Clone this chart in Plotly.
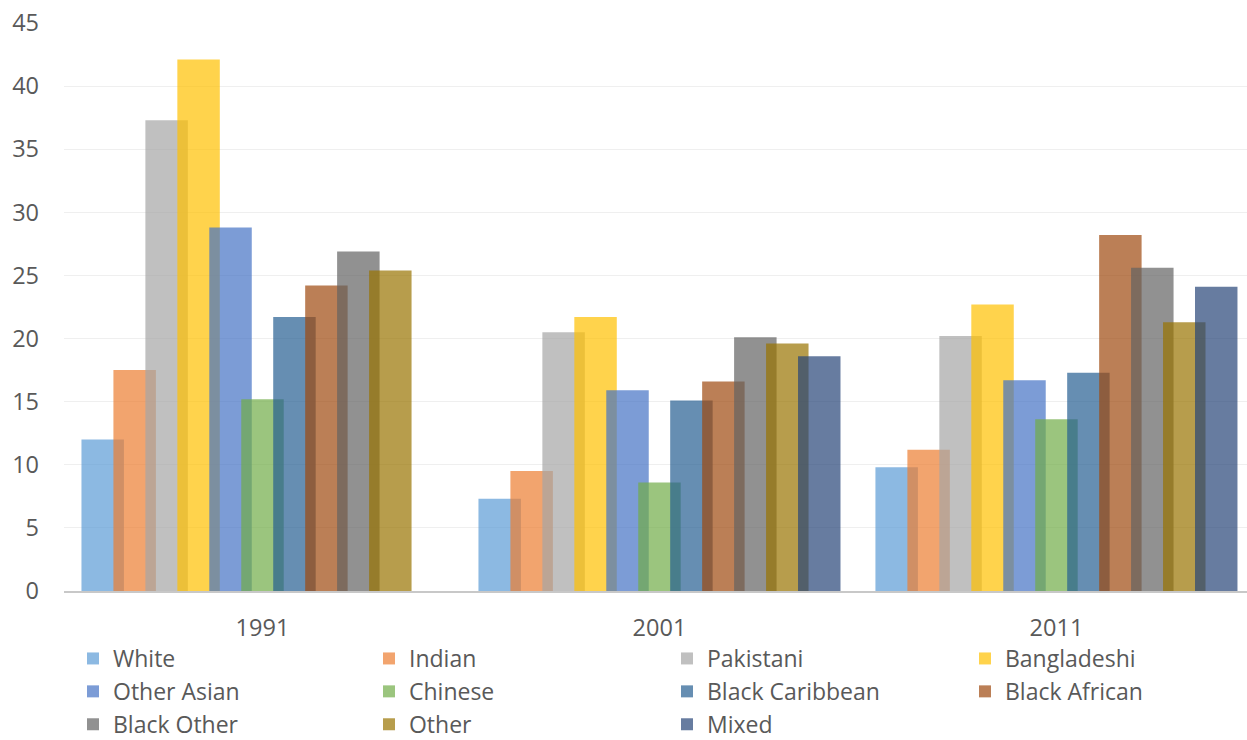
import plotly.graph_objects as go

years = ["1991", "2001", "2011"]
series_names = ["White", "Indian", "Pakistani", "Bangladeshi", "Other Asian", "Chinese",
                "Black Caribbean", "Black African", "Black Other", "Other", "Mixed"]
white = [12.0, 7.3, 9.8]
indian = [17.5, 9.5, 11.2]
pakistani = [37.3, 20.5, 20.2]
bangladeshi = [42.1, 21.7, 22.7]
other_asian = [28.8, 15.9, 16.7]
chinese = [15.2, 8.6, 13.6]
black_caribbean = [21.7, 15.1, 17.3]
black_african = [24.2, 16.6, 28.2]
black_other = [26.9, 20.1, 25.6]
other = [25.4, 19.6, 21.3]
mixed = [None, 18.6, 24.1]
y_ticks = [0, 5, 10, 15, 20, 25, 30, 35, 40, 45]

values = [white, indian, pakistani, bangladeshi, other_asian, chinese,
          black_caribbean, black_african, black_other, other, mixed]
colors = ["91,155,213", "237,125,49", "165,165,165", "255,192,0", "68,114,196",
          "112,173,71", "37,94,145", "158,72,14", "99,99,99", "153,115,0", "38,68,120"]

step = 0.0805
width = 0.107
offset0 = -(step * 10 + width) / 2

# legend laid out in 4 columns (row-major order of the series)
legend_ids = ["legend", "legend2", "legend3", "legend4"]
legend_x = [0.0076, 0.2578, 0.5097, 0.7616]
FS = 23.5
LFS = 23
TXT = "#595959"

fig = go.Figure()
for i, (name, vals, c) in enumerate(zip(series_names, values, colors)):
    fig.add_trace(go.Bar(
        x=years, y=vals, name=name,
        offset=offset0 + i * step, width=width,
        marker=dict(color=f"rgba({c},0.7)", line=dict(width=0)),
        legend=legend_ids[i % 4], legendgroup=name,
    ))

legend_common = dict(orientation="v", xanchor="left", y=-0.081, yanchor="top",
                     tracegroupgap=0, bgcolor="rgba(0,0,0,0)",
                     font=dict(family="Open Sans", size=LFS, color=TXT))
layout_legends = {lid: dict(x=lx, **legend_common) for lid, lx in zip(legend_ids, legend_x)}

fig.update_layout(
    barmode="overlay",
    width=1247, height=740,
    margin=dict(l=64, r=0, t=23, b=149, autoexpand=False),
    plot_bgcolor="white", paper_bgcolor="white",
    font=dict(family="Open Sans", size=FS, color=TXT),
    showlegend=True,
    xaxis=dict(type="category", range=[-0.5, 2.48], showgrid=False,
               showline=True, linecolor="#C8C8C8", linewidth=2,
               ticks="", ticklabelstandoff=15, tickfont=dict(size=FS, color=TXT)),
    yaxis=dict(range=[0, 45], tickvals=y_ticks, showgrid=True, gridcolor="#EFEFEF",
               gridwidth=1, zeroline=False, showline=False, ticks="",
               ticklabelstandoff=24, tickfont=dict(size=FS, color=TXT)),
    **layout_legends,
)

fig.write_html("out.html")
